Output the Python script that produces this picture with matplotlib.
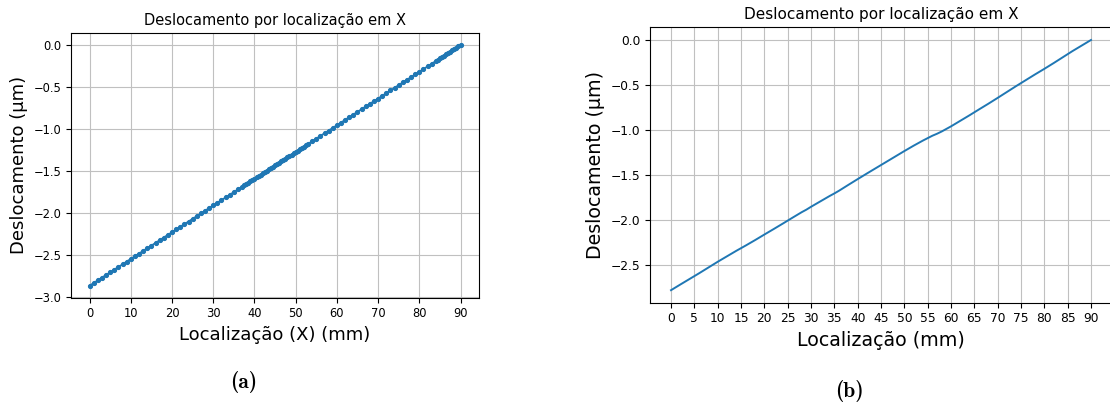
import numpy as np
import matplotlib
matplotlib.use("Agg")
import matplotlib.pyplot as plt

# (a) measured points, location in mm and displacement in um
loc_a = [0, 1, 2, 3, 4, 5, 6, 7, 8, 9, 10, 11, 12, 13, 14, 15, 16, 17, 18, 19,
         20, 21, 22, 23, 24, 25, 26, 27, 28, 29, 30, 31, 32, 33, 34, 35, 36, 37,
         37.5, 38, 38.5, 39, 39.5, 40, 40.5, 41, 41.5, 42, 42.5, 43, 43.5, 44,
         44.5, 45, 45.5, 46, 46.5, 47, 47.5, 48, 48.5, 49, 49.5, 50, 50.5, 51,
         51.5, 52, 52.5, 53, 54, 55, 56, 57, 58, 59, 60, 61, 62, 63, 64, 65, 66,
         67, 68, 69, 70, 71, 72, 73, 74, 75, 76, 77, 78, 79, 80, 81, 82, 83, 84,
         84.5, 85, 85.5, 86, 86.5, 87, 87.5, 88, 88.5, 89, 89.5, 90]
desl_a = [-2.870, -2.838, -2.806, -2.774, -2.742, -2.711, -2.679, -2.647, -2.615,
          -2.583, -2.551, -2.519, -2.487, -2.455, -2.424, -2.392, -2.360, -2.328,
          -2.296, -2.264, -2.232, -2.200, -2.168, -2.137, -2.105, -2.073, -2.041,
          -2.009, -1.977, -1.945, -1.913, -1.881, -1.850, -1.818, -1.786, -1.754,
          -1.722, -1.690, -1.674, -1.658, -1.642, -1.626, -1.610, -1.594, -1.578,
          -1.563, -1.547, -1.531, -1.515, -1.499, -1.483, -1.467, -1.451, -1.435,
          -1.419, -1.403, -1.387, -1.371, -1.355, -1.339, -1.323, -1.307, -1.291,
          -1.276, -1.260, -1.244, -1.228, -1.212, -1.196, -1.180, -1.148, -1.116,
          -1.084, -1.052, -1.020, -0.989, -0.957, -0.925, -0.893, -0.861, -0.829,
          -0.797, -0.765, -0.733, -0.701, -0.670, -0.638, -0.606, -0.574, -0.542,
          -0.510, -0.478, -0.446, -0.414, -0.383, -0.351, -0.319, -0.287, -0.255,
          -0.223, -0.191, -0.175, -0.159, -0.143, -0.128, -0.112, -0.096, -0.080,
          -0.064, -0.048, -0.032, -0.016, 0.000]

# (b) measured profile
loc_b = [0, 2, 4, 6, 8, 10, 12, 14, 16, 18, 20, 22, 24, 26, 28, 29, 30, 32, 34,
         35, 36, 38, 40, 42, 44, 46, 48, 50, 52, 54, 56, 57, 58, 60, 62, 64, 66,
         68, 70, 72, 74, 76, 78, 80, 82, 84, 86, 88, 90]
desl_b = [-2.775, -2.712, -2.650, -2.588, -2.524, -2.460, -2.399, -2.338, -2.280,
          -2.220, -2.158, -2.097, -2.035, -1.972, -1.910, -1.882, -1.850, -1.790,
          -1.730, -1.702, -1.672, -1.607, -1.543, -1.480, -1.418, -1.356, -1.294,
          -1.232, -1.172, -1.115, -1.062, -1.040, -1.015, -0.958, -0.896, -0.834,
          -0.770, -0.707, -0.642, -0.576, -0.510, -0.446, -0.382, -0.320, -0.256,
          -0.190, -0.124, -0.062, 0.000]

titulo = "Deslocamento por localização em X"

fig = plt.figure(figsize=(11.1, 4.03), dpi=100)

# left panel
ax1 = fig.add_axes([0.064, 0.2613, 0.3676, 0.6568])
ax1.plot(loc_a, desl_a, '.-', color='C0', markersize=5.5, linewidth=1.3)
ax1.set_xticks(np.arange(0, 91, 10))
ax1.set_title(titulo, fontsize=10.5)
ax1.set_xlabel("Localização (X) (mm)", fontsize=13)
ax1.set_ylabel("Deslocamento (µm)", fontsize=13)
ax1.tick_params(labelsize=8.3)
ax1.grid(True, color='#c0c0c0')

# right panel
ax2 = fig.add_axes([0.5856, 0.2489, 0.4162, 0.6829])
ax2.plot(loc_b, desl_b, '-', color='C0', linewidth=1.4)
ax2.set_xticks(np.arange(0, 91, 5))
ax2.set_title(titulo, fontsize=11)
ax2.set_xlabel("Localização (mm)", fontsize=13.7)
ax2.set_ylabel("Deslocamento (µm)", fontsize=13.7)
ax2.tick_params(labelsize=8.8)
ax2.grid(True, color='#c0c0c0')

# subfigure captions (bold Computer Modern)
fig.text(243.3 / 1110, 1 - 382.3 / 403, '(a)', family='cmb10', fontsize=15.5,
         ha='center', va='center')
fig.text(849 / 1110, 1 - 390.7 / 403, '(b)', family='cmb10', fontsize=15.5,
         ha='center', va='center')

fig.savefig("out.png", dpi=100)
